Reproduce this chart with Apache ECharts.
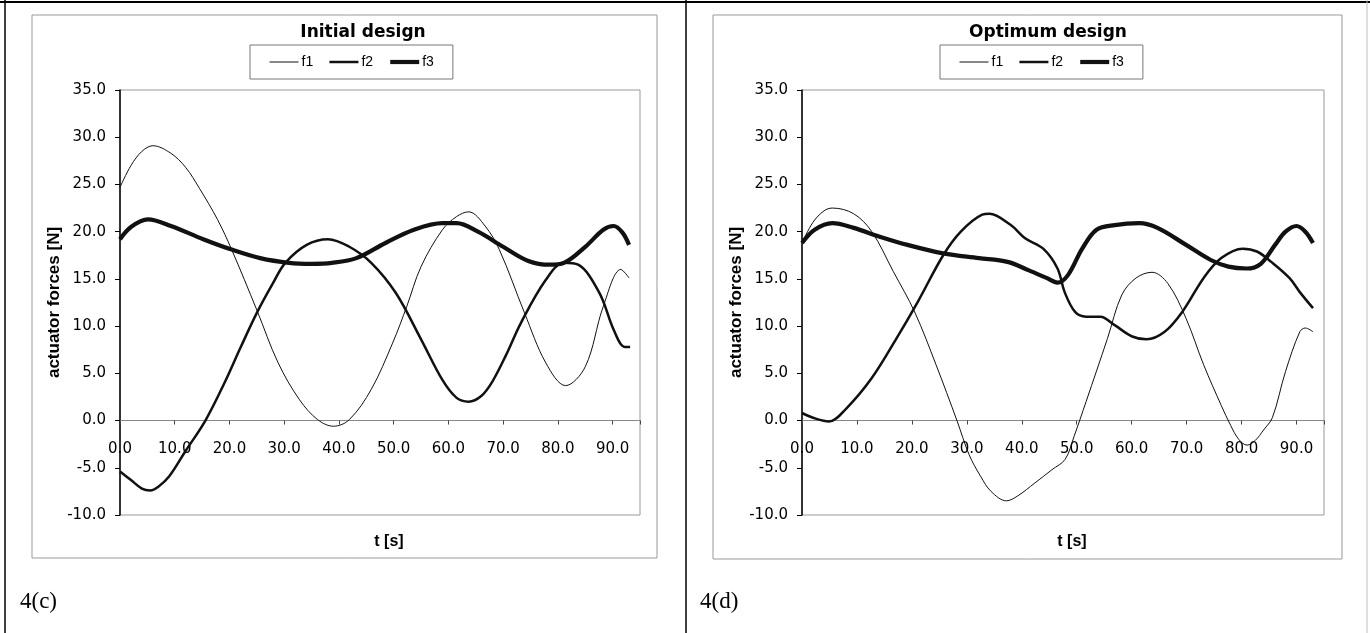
<!DOCTYPE html>
<html>
<head>
<meta charset="utf-8">
<script src="https://cdn.jsdelivr.net/npm/echarts@6/dist/echarts.min.js"></script>
<style>
  html, body { margin: 0; padding: 0; background: #fff; }
  #chart { width: 1370px; height: 633px; }
</style>
</head>
<body>
<div id="chart"></div>
<script>
// ---- Panel titles and captions ----
const panelTitles = ['Initial design', 'Optimum design'];
const panelCaptions = ['4(c)', '4(d)'];
const seriesNames = ['f1', 'f2', 'f3'];

// ---- Initial design: actuator forces [N] over time t [s] ----
const initF1T = [0, 2, 4, 6, 9.3, 12, 14.5, 17.8, 20.4, 25, 28.9, 32.8, 36.1, 39, 41.9, 45.9, 49.8, 52.4, 55, 58.9, 61.5, 63.7, 66.7, 69.3, 73.9, 77.8, 81.4, 85, 88.3, 91.5, 93];
const initF1V = [24.7, 27.0, 28.5, 29.1, 28.3, 26.8, 24.6, 21.3, 18.1, 11.7, 6.1, 2.2, 0.1, -0.6, 0.1, 3.3, 8.2, 12.1, 16.3, 20.2, 21.6, 22.1, 20.6, 18.1, 11.4, 6.1, 3.7, 5.7, 12.1, 16.0, 15.1];

const initF2T = [0, 2, 4, 5.5, 7, 9, 12, 15.6, 19.1, 22, 25, 28, 30.2, 34.1, 38, 41.9, 45.9, 50.4, 55, 58.9, 61.5, 63.7, 66, 68, 70.5, 73.3, 77.8, 81.1, 83.7, 87.6, 90.2, 92.2, 93.2];
const initF2V = [-5.4, -6.3, -7.2, -7.4, -7.0, -5.9, -3.2, 0, 4.0, 7.7, 11.4, 14.6, 16.7, 18.6, 19.2, 18.4, 16.7, 13.5, 8.6, 4.3, 2.4, 2.0, 2.6, 4.1, 6.9, 10.4, 14.9, 16.7, 16.5, 13.5, 9.6, 7.8, 7.8];

const initF3T = [0, 2, 5.1, 9.3, 15.2, 20.4, 25.6, 30.9, 35, 38.7, 43.2, 48.5, 53.7, 58.9, 61.5, 65.4, 70, 74.6, 78.5, 81.1, 85, 88.3, 90.2, 91.8, 93];
const initF3V = [19.2, 20.5, 21.3, 20.6, 19.2, 18.1, 17.2, 16.7, 16.6, 16.7, 17.2, 18.8, 20.2, 20.9, 20.9, 20.0, 18.4, 16.9, 16.5, 16.7, 18.4, 20.2, 20.6, 19.9, 18.6];

// ---- Optimum design ----
const optF1T = [0, 2, 4, 5.5, 9.4, 12.7, 16.6, 20.5, 24.4, 28.2, 30.4, 32.5, 34.4, 37.2, 39.2, 42.4, 45.5, 47.9, 49.5, 51.7, 55.6, 58.2, 60.8, 63.7, 66.6, 69.9, 73.1, 76.3, 78, 79.5, 81, 82.5, 84, 85.6, 88, 90.6, 91.6, 93];
const optF1V = [18.8, 21.0, 22.2, 22.5, 21.9, 20.0, 15.8, 11.5, 5.9, 0, -3.6, -5.9, -7.5, -8.5, -8.0, -6.6, -5.2, -4.1, -1.7, 2.0, 8.7, 13.3, 15.1, 15.7, 14.5, 10.8, 5.9, 1.6, -0.5, -2.0, -2.6, -2.1, -1.0, 0.3, 5.2, 9.4, 9.8, 9.4];

const optF2T = [0, 2.5, 4.9, 8.1, 12.7, 17.2, 21.1, 25.7, 28.9, 32.8, 34.1, 38, 40.6, 43.9, 46.5, 47.8, 49.7, 51.7, 54.3, 56.9, 60.1, 62.7, 66, 69.2, 73.1, 76.3, 80.2, 82.8, 85.4, 88.7, 90.6, 93];
const optF2V = [0.8, 0.2, -0.1, 1.3, 4.5, 8.7, 12.6, 17.5, 20.0, 21.8, 21.9, 20.7, 19.3, 18.2, 16.1, 13.6, 11.5, 11.0, 11.0, 10.1, 8.9, 8.6, 9.4, 11.5, 15.1, 17.2, 18.2, 17.9, 16.8, 15.1, 13.6, 11.9];

const optF3T = [0, 2.3, 5.5, 9.4, 14, 19.2, 25.7, 32.2, 37.4, 41.3, 44.5, 46.5, 48.4, 51, 53.6, 56.9, 61.4, 64.7, 69.9, 74.4, 77.6, 80.9, 83.5, 86.1, 88, 90, 91.6, 93];
const optF3V = [18.8, 20.2, 20.9, 20.4, 19.5, 18.6, 17.7, 17.2, 16.8, 15.9, 15.1, 14.6, 15.4, 18.2, 20.2, 20.7, 20.9, 20.4, 18.6, 17.0, 16.3, 16.1, 16.6, 18.6, 20.0, 20.6, 20.0, 18.8];

// ---- Axis ranges ----
const tMin = 0, tMax = 95, tStep = 10;
const fMin = -10, fMax = 35, fStep = 5;

const pairs = (t, v) => t.map((x, i) => [x, v[i]]);

const panels = [
  [pairs(initF1T, initF1V), pairs(initF2T, initF2V), pairs(initF3T, initF3V)],
  [pairs(optF1T, optF1V), pairs(optF2T, optF2V), pairs(optF3T, optF3V)]
];

const lineWidths = [1, 2.5, 4.2];
const ink = '#111';

// layout of the two panels
const grids = [
  { left: 120, top: 90, width: 520, height: 425 },
  { left: 802, top: 90, width: 522, height: 425 }
];
const titleX = [363, 1048];
const legendX = [250, 940];
const frames = [
  { x: 32, y: 15, w: 625, h: 543 },
  { x: 713, y: 15, w: 629, h: 544 }
];

const tickFont = { fontFamily: 'DejaVu Sans', fontSize: 15, color: '#000' };
const nameFont = { fontFamily: 'Liberation Sans', fontWeight: 'bold', fontSize: 16, color: '#000' };

// tick labels of the time axis sit just under the zero line
const zeroRowOffset = -73;

const xAxes = grids.map((g, i) => ({
  type: 'value', gridIndex: i, min: tMin, max: tMax, interval: tStep,
  axisLine: { onZero: true, lineStyle: { color: '#888', width: 1 } },
  axisTick: { show: true, length: 4, lineStyle: { color: '#444' } },
  axisLabel: Object.assign({ margin: zeroRowOffset, formatter: v => (v % tStep === 0 ? v.toFixed(1) : '') }, tickFont),
  splitLine: { show: false },
  name: 't [s]', nameLocation: 'middle', nameGap: 19, nameMoveOverlap: false,
  nameTextStyle: Object.assign({ padding: [0, 0, 0, 18] }, nameFont)
}));

const yAxes = grids.map((g, i) => ({
  type: 'value', gridIndex: i, min: fMin, max: fMax, interval: fStep,
  axisLine: { show: true, onZero: false, lineStyle: { color: '#000', width: 1.5 } },
  axisTick: { show: true, length: 5, lineStyle: { color: '#000' } },
  axisLabel: Object.assign({ margin: 14, formatter: v => v.toFixed(1) }, tickFont),
  splitLine: { show: false },
  name: 'actuator forces [N]', nameLocation: 'middle', nameGap: 54, nameRotate: 90,
  nameTextStyle: Object.assign({}, nameFont, { fontSize: 17 })
}));

const series = [];
panels.forEach((curves, p) => {
  curves.forEach((data, k) => {
    series.push({
      name: seriesNames[k], type: 'line', xAxisIndex: p, yAxisIndex: p,
      data, symbol: 'none', smooth: 0.35, animation: false,
      lineStyle: { color: ink, width: lineWidths[k] },
      itemStyle: { color: ink }
    });
  });
});

const graphic = [
  { type: 'line', shape: { x1: 0, y1: 2, x2: 1370, y2: 2 }, style: { stroke: '#000', lineWidth: 2 } },
  { type: 'line', shape: { x1: 5, y1: 0, x2: 5, y2: 633 }, style: { stroke: '#000', lineWidth: 1.5 } },
  { type: 'line', shape: { x1: 686, y1: 0, x2: 686, y2: 633 }, style: { stroke: '#000', lineWidth: 1.5 } },
  { type: 'line', shape: { x1: 1367, y1: 0, x2: 1367, y2: 633 }, style: { stroke: '#bbb', lineWidth: 1 } }
];
frames.forEach(f => graphic.push({
  type: 'rect', shape: { x: f.x, y: f.y, width: f.w, height: f.h },
  style: { fill: 'none', stroke: '#999', lineWidth: 1 }, z: -1
}));
panelCaptions.forEach((c, i) => graphic.push({
  type: 'text', x: [20, 700][i], y: 602,
  style: { text: c, font: '23px "Liberation Serif"', fill: '#000', verticalAlign: 'middle' }
}));

const legendData = seriesNames.map((n, k) => ({
  name: n,
  itemStyle: { color: 'rgba(0,0,0,0)', borderWidth: 0 },
  lineStyle: { color: ink, width: lineWidths[k] }
}));

const option = {
  backgroundColor: '#fff',
  animation: false,
  title: panelTitles.map((t, i) => ({
    text: t, left: titleX[i], top: 24, textAlign: 'center', padding: 0,
    textStyle: { fontFamily: 'DejaVu Sans', fontWeight: 'bold', fontSize: 17, color: '#000' }
  })),
  legend: legendX.map(x => ({
    data: legendData, left: x, top: 45, orient: 'horizontal',
    padding: [10, 19], itemGap: 15, itemWidth: 29, itemHeight: 10,
    borderColor: '#777', borderWidth: 1, selectedMode: false,
    textStyle: { fontFamily: 'Liberation Sans', fontSize: 14, color: '#000', padding: [0, 0, 0, -2] }
  })),
  grid: grids.map(g => Object.assign({ show: true, borderColor: '#999', borderWidth: 1, outerBoundsMode: 'none', containLabel: false }, g)),
  xAxis: xAxes,
  yAxis: yAxes,
  series,
  graphic
};

const chart = echarts.init(document.getElementById('chart'));
chart.setOption(option);
</script>
</body>
</html>
